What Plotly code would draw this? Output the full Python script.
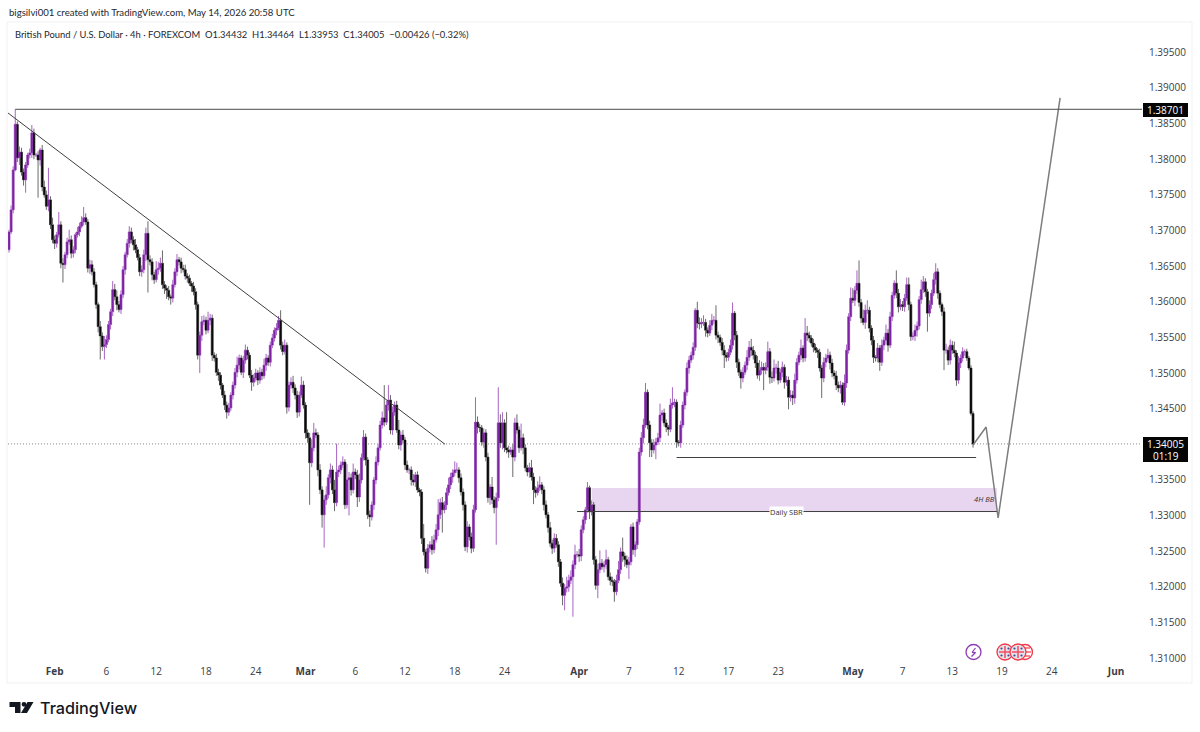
import plotly.graph_objects as go

# GBP/USD 4h closes, oldest first
first_open = 1.3673
closes = [
 1.3698,1.3729,1.3785,1.3849,1.3802,1.3810,1.3782,1.3771,1.3792,1.3806,1.3809,1.3837,1.3806,1.3806,1.3799,1.3813,1.3761,1.3750,1.3734,1.3743,
 1.3708,1.3687,1.3682,1.3694,1.3708,1.3654,1.3652,1.3666,1.3684,1.3687,1.3668,1.3673,1.3694,1.3698,1.3706,1.3712,1.3718,1.3712,1.3647,1.3652,
 1.3642,1.3624,1.3596,1.3565,1.3552,1.3537,1.3540,1.3547,1.3568,1.3586,1.3617,1.3607,1.3596,1.3589,1.3610,1.3645,1.3666,1.3682,1.3698,1.3687,
 1.3680,1.3673,1.3662,1.3642,1.3645,1.3666,1.3696,1.3659,1.3656,1.3638,1.3631,1.3645,1.3647,1.3654,1.3624,1.3619,1.3616,1.3607,1.3605,1.3624,
 1.3642,1.3659,1.3656,1.3647,1.3645,1.3636,1.3633,1.3626,1.3622,1.3614,1.3596,1.3525,1.3553,1.3572,1.3574,1.3560,1.3574,1.3577,1.3525,1.3521,
 1.3501,1.3497,1.3483,1.3469,1.3455,1.3445,1.3451,1.3469,1.3483,1.3501,1.3511,1.3521,1.3501,1.3518,1.3532,1.3525,1.3497,1.3487,1.3493,1.3500,
 1.3490,1.3501,1.3496,1.3511,1.3521,1.3515,1.3539,1.3549,1.3560,1.3563,1.3574,1.3539,1.3530,1.3539,1.3452,1.3483,1.3487,1.3479,1.3469,1.3445,
 1.3469,1.3483,1.3455,1.3416,1.3409,1.3374,1.3395,1.3416,1.3413,1.3364,1.3336,1.3301,1.3322,1.3329,1.3353,1.3364,1.3336,1.3318,1.3361,1.3364,
 1.3371,1.3375,1.3315,1.3350,1.3353,1.3336,1.3361,1.3357,1.3326,1.3350,1.3381,1.3410,1.3378,1.3301,1.3298,1.3315,1.3350,1.3375,1.3395,1.3427,
 1.3437,1.3431,1.3455,1.3462,1.3420,1.3445,1.3455,1.3420,1.3399,1.3413,1.3406,1.3371,1.3364,1.3364,1.3350,1.3347,1.3357,1.3336,1.3333,1.3268,
 1.3249,1.3226,1.3254,1.3259,1.3252,1.3266,1.3280,1.3301,1.3318,1.3308,1.3315,1.3332,1.3343,1.3354,1.3360,1.3364,1.3364,1.3353,1.3333,1.3315,
 1.3256,1.3284,1.3270,1.3254,1.3308,1.3431,1.3424,1.3423,1.3403,1.3416,1.3382,1.3325,1.3340,1.3322,1.3311,1.3325,1.3430,1.3402,1.3430,1.3395,
 1.3392,1.3389,1.3392,1.3382,1.3430,1.3420,1.3395,1.3409,1.3395,1.3367,1.3361,1.3367,1.3354,1.3336,1.3332,1.3339,1.3343,1.3336,1.3315,1.3301,
 1.3283,1.3261,1.3254,1.3268,1.3259,1.3235,1.3205,1.3188,1.3198,1.3200,1.3209,1.3214,1.3231,1.3245,1.3245,1.3243,1.3280,1.3294,1.3308,1.3339,
 1.3305,1.3315,1.3238,1.3202,1.3224,1.3233,1.3228,1.3231,1.3238,1.3214,1.3209,1.3207,1.3193,1.3209,1.3224,1.3249,1.3243,1.3238,1.3231,1.3235,
 1.3284,1.3252,1.3259,1.3291,1.3389,1.3409,1.3427,1.3473,1.3427,1.3402,1.3392,1.3399,1.3403,1.3409,1.3441,1.3444,1.3430,1.3424,1.3421,1.3455,
 1.3458,1.3459,1.3403,1.3402,1.3427,1.3455,1.3473,1.3507,1.3518,1.3525,1.3536,1.3588,1.3570,1.3569,1.3571,1.3571,1.3560,1.3556,1.3567,1.3574,
 1.3574,1.3553,1.3550,1.3543,1.3532,1.3525,1.3522,1.3529,1.3539,1.3584,1.3553,1.3515,1.3501,1.3493,1.3501,1.3511,1.3522,1.3536,1.3532,1.3525,
 1.3514,1.3497,1.3504,1.3508,1.3504,1.3508,1.3530,1.3494,1.3493,1.3507,1.3507,1.3490,1.3501,1.3508,1.3487,1.3490,1.3466,1.3469,1.3465,1.3490,
 1.3515,1.3525,1.3535,1.3521,1.3556,1.3553,1.3549,1.3542,1.3536,1.3532,1.3529,1.3507,1.3493,1.3515,1.3521,1.3525,1.3514,1.3500,1.3496,1.3483,
 1.3479,1.3483,1.3459,1.3486,1.3532,1.3579,1.3605,1.3602,1.3616,1.3626,1.3599,1.3577,1.3571,1.3588,1.3588,1.3563,1.3546,1.3522,1.3521,1.3535,
 1.3515,1.3539,1.3546,1.3556,1.3539,1.3579,1.3609,1.3626,1.3612,1.3593,1.3596,1.3593,1.3605,1.3624,1.3596,1.3551,1.3552,1.3560,1.3566,1.3603,
 1.3617,1.3628,1.3614,1.3584,1.3596,1.3612,1.3631,1.3642,1.3612,1.3596,1.3586,1.3532,1.3532,1.3518,1.3539,1.3532,1.3528,1.3490,1.3514,1.3521,
 1.3530,1.3530,1.3521,1.3507,1.34432,1.34005,
]

# Wick lengths beyond the candle body, in pips
upper_wicks = [
 3,6,5,21,4,8,6,5,4,3,6,11,6,3,5,3,7,9,6,45,
 5,10,6,4,18,5,7,4,6,14,6,5,3,7,5,8,15,6,4,7,
 6,5,4,3,8,5,12,6,5,4,12,8,9,5,6,5,4,6,8,6,
 5,8,4,5,6,7,8,17,6,5,4,12,9,8,18,5,4,6,3,7,
 5,8,4,6,5,7,4,5,3,6,5,4,5,8,7,5,12,6,5,4,
 6,5,4,3,6,5,7,4,5,6,12,5,4,6,8,5,4,7,5,6,
 4,7,5,9,6,4,5,6,4,7,6,14,5,8,4,5,7,9,5,6,
 5,12,6,4,5,7,12,14,6,4,8,5,6,12,5,9,6,14,40,6,
 5,8,4,22,8,6,12,5,7,9,6,10,5,4,6,5,4,8,5,6,
 9,46,6,21,7,8,5,6,14,5,7,4,6,3,5,8,4,5,3,4,
 20,4,6,5,12,7,8,22,6,8,5,7,10,6,5,12,10,4,6,5,
 5,8,4,6,7,35,8,5,4,6,5,6,4,14,5,7,50,12,15,5,
 50,6,4,8,7,12,5,20,6,5,4,7,11,6,5,9,12,4,5,6,
 4,8,5,7,6,5,4,8,6,14,8,9,6,14,5,8,6,5,4,8,
 3,6,4,5,8,18,6,5,14,4,6,5,4,8,12,6,20,5,6,7,
 4,6,5,4,6,8,9,13,4,6,5,8,6,7,16,4,6,5,3,9,
 22,5,4,3,6,5,4,8,6,5,7,3,12,8,6,10,5,4,7,9,
 6,21,5,4,6,7,4,5,8,15,3,6,5,4,7,5,10,9,12,6,
 5,10,14,8,6,7,14,5,8,12,6,10,5,8,4,6,5,7,6,9,
 6,5,12,4,21,10,5,4,6,5,3,5,4,7,6,9,5,6,4,7,
 5,6,4,12,8,5,15,14,6,18,32,5,12,8,14,5,4,6,3,7,
 4,8,5,12,6,7,5,4,18,6,8,5,6,10,10,4,5,8,6,5,
 14,8,5,4,6,5,9,12,5,4,3,6,9,5,8,6,12,4,10,5,
 6,3,4,3,4,3.2,
]
lower_wicks = [
 4,3,5,2,6,10,5,8,18,4,5,7,6,3,53,8,6,4,5,7,
 6,5,8,6,4,7,25,6,5,4,7,6,5,4,6,3,5,4,6,8,
 5,4,6,8,33,6,18,5,4,7,6,5,8,4,6,5,7,4,6,5,
 8,5,4,6,7,5,9,46,5,8,6,4,7,5,6,8,12,5,9,6,
 4,6,5,7,4,5,6,4,8,5,7,6,25,8,5,6,4,7,8,5,
 5,8,6,4,7,9,5,4,6,5,7,6,4,8,5,6,4,12,6,5,
 7,5,6,4,8,5,6,4,5,7,3,6,5,4,9,6,5,7,6,8,
 6,4,5,8,7,59,6,5,4,9,6,18,46,7,5,8,6,12,5,7,
 6,4,6,5,50,8,5,6,14,7,5,4,8,6,14,5,7,6,5,4,
 5,6,4,8,6,7,5,4,6,8,5,7,4,6,8,5,7,4,6,8,
 5,6,8,6,7,5,4,9,6,32,5,7,4,6,8,5,4,7,5,8,
 6,8,5,7,5,4,9,6,5,8,6,7,10,6,8,52,5,7,9,6,
 5,8,4,28,6,5,7,4,9,5,6,8,5,20,7,4,5,6,8,5,
 7,5,8,6,4,7,5,14,21,6,7,5,56,6,4,8,7,5,6,4,
 10,5,7,6,18,5,4,8,6,5,7,6,14,5,4,6,8,10,5,20,
 5,7,10,6,4,5,8,4,6,20,10,5,20,4,6,8,5,7,9,4,
 5,6,8,5,7,4,6,5,8,4,6,5,7,8,6,5,9,6,4,7,
 5,6,8,5,7,18,6,5,4,6,7,8,5,15,6,4,7,5,8,6,
 7,5,8,6,28,6,5,9,7,5,8,6,4,7,9,5,17,6,10,8,
 5,4,7,6,5,8,6,5,7,4,8,5,28,6,7,5,9,6,5,7,
 6,8,4,5,7,5,6,4,8,5,6,7,4,9,5,6,7,8,5,6,
 12,5,7,6,9,4,6,5,7,8,5,6,7,4,8,6,5,7,9,5,
 6,5,7,26,5,6,4,7,8,5,6,28,5,7,6,5,6,8,5,7,
 5,6,4,3,3,5.2,
]
assert len(closes) == len(upper_wicks) == len(lower_wicks)

tick_bars = [22, 47, 71, 95, 119, 143, 167, 191, 215, 239, 275, 299, 323, 347, 371, 407, 431, 455, 479, 503, 534]
tick_labels = ["<b>Feb</b>", "6", "12", "18", "24", "<b>Mar</b>", "6", "12", "18", "24", "<b>Apr</b>", "7", "12",
               "17", "23", "<b>May</b>", "7", "13", "19", "24", "<b>Jun</b>"]
price_ticks = [1.31 + 0.005 * k for k in range(18)]

target_high = 1.38701
last_close = 1.34005
support_level = 1.33814
sbr_level = 1.33056
zone_top = 1.33386
trend_bars = [-0.5, 210.3]
trend_prices = [1.38649, 1.3400]
forecast_bars = [465, 471.3, 477.1, 507]
forecast_prices = [1.33990, 1.34242, 1.32965, 1.38860]

UP = "#7f23a6"
DOWN = "#0b0b0b"
UP_WICK = "#a765c4"
DOWN_WICK = "#6a6a6a"
TEXT = "#3a3d45"
FONT = "Open Sans, sans-serif"
HEAD_FONT = "Lato, sans-serif"

W, H = 1200, 732
L, R, T, B = 8, 1142, 22, 664


def fx(px):
    return (px - L) / (R - L)


def fy(py):
    return (B - py) / (B - T)


opens = [first_open] + closes[:-1]
groups = {True: dict(x=[], base=[], y=[]), False: dict(x=[], base=[], y=[])}
wicks = {True: dict(x=[], y=[]), False: dict(x=[], y=[])}
for i, (o, c, uw, lw) in enumerate(zip(opens, closes, upper_wicks, lower_wicks)):
    up = c >= o
    top, bot = max(o, c), min(o, c)
    groups[up]["x"].append(i)
    groups[up]["base"].append(bot)
    groups[up]["y"].append(top - bot)
    wicks[up]["x"] += [i, i, None, i, i, None]
    wicks[up]["y"] += [top, top + uw / 1e4, None, bot, bot - lw / 1e4, None]

fig = go.Figure()
for up, colour, wick_colour in ((False, DOWN, DOWN_WICK), (True, UP, UP_WICK)):
    fig.add_bar(x=groups[up]["x"], base=groups[up]["base"], y=groups[up]["y"], width=0.95,
                marker=dict(color=colour, line=dict(color=colour, width=0.6)), hoverinfo="skip")
    fig.add_scatter(x=wicks[up]["x"], y=wicks[up]["y"], mode="lines",
                    line=dict(color=wick_colour, width=1), hoverinfo="skip")

# Trend line and projected path
fig.add_scatter(x=trend_bars, y=trend_prices, mode="lines", line=dict(color="#3f3f3f", width=1), hoverinfo="skip")
fig.add_scatter(x=forecast_bars, y=forecast_prices, mode="lines", line=dict(color="#7d7d7d", width=1.5), hoverinfo="skip")

shapes = [
    dict(type="rect", xref="paper", yref="paper", x0=fx(7), x1=fx(1192), y0=fy(683), y1=fy(22),
         line=dict(color="#f0f1f4", width=1), layer="below"),
    dict(type="rect", x0=281, x1=476.5, y0=sbr_level, y1=zone_top, fillcolor="#e8d6f0", line=dict(width=0), layer="below"),
    dict(type="line", x0=-0.5, x1=546.5, y0=last_close, y1=last_close, line=dict(color="#8a8a8a", width=1, dash="1px,2px"), layer="below"),
    dict(type="line", x0=3, x1=546.5, y0=target_high, y1=target_high, line=dict(color="#4a4a4a", width=1)),
    dict(type="line", x0=322, x1=466.5, y0=support_level, y1=support_level, line=dict(color="#3f3f3f", width=1)),
    dict(type="line", x0=274, x1=476.5, y0=sbr_level, y1=sbr_level, line=dict(color="#3f3f3f", width=1)),
    # price tags on the axis
    dict(type="rect", xref="paper", yref="paper", x0=fx(1143), x1=fx(1188), y0=fy(117), y1=fy(103), fillcolor="#050505", line=dict(width=0)),
    dict(type="rect", xref="paper", yref="paper", x0=fx(1143), x1=fx(1188), y0=fy(462), y1=fy(437), fillcolor="#050505", line=dict(width=0)),
]


def circle(cx, cy, r, fill, stroke, width=1.3):
    return dict(type="circle", xref="paper", yref="paper", x0=fx(cx - r), x1=fx(cx + r), y0=fy(cy + r), y1=fy(cy - r),
                fillcolor=fill, line=dict(color=stroke, width=width))


def seg(x0, y0, x1, y1, colour, width=1.2):
    return dict(type="line", xref="paper", yref="paper", x0=fx(x0), x1=fx(x1), y0=fy(y0), y1=fy(y1),
                line=dict(color=colour, width=width))


# Event markers along the lower edge of the pane
shapes.append(circle(973.5, 652, 7.5, "#ffffff", "#8e3bb5"))
shapes.append(seg(975.5, 648, 972, 652.5, "#8e3bb5"))
shapes.append(seg(972, 652.5, 975.5, 652.5, "#8e3bb5"))
shapes.append(seg(975.5, 652.5, 971.5, 656.5, "#8e3bb5"))
shapes.append(circle(1025, 652, 7.5, "#ffffff", "#f23645"))
shapes.append(seg(1025, 648, 1030, 648, "#f23645"))
shapes.append(seg(1025, 652, 1031, 652, "#f23645"))
shapes.append(seg(1025, 656, 1030, 656, "#f23645"))
for cx in (1005, 1018):
    shapes.append(circle(cx, 652, 8, "#e4e2ea", "#f23645"))
    shapes.append(seg(cx - 6, 652, cx + 6, 652, "#f0566a", 1.6))
    shapes.append(seg(cx, 646, cx, 658, "#f0566a", 1.6))
    for dx, dy in ((-3.5, -3.5), (3.5, -3.5), (-3.5, 3.5), (3.5, 3.5)):
        shapes.append(circle(cx + dx, 652 + dy, 1.1, "#3b4a8c", "#3b4a8c", 0))

# Wordmark glyph at the foot of the page
shapes += [
    dict(type="path", xref="paper", yref="paper", fillcolor="#131722", line=dict(width=0),
         path=f"M {fx(9.5)} {fy(702)} L {fx(20.5)} {fy(702)} L {fx(20.5)} {fy(713)} L {fx(15)} {fy(713)} L {fx(15)} {fy(707)} L {fx(9.5)} {fy(707)} Z"),
    circle(24, 704.3, 2.4, "#131722", "#131722", 0),
    dict(type="path", xref="paper", yref="paper", fillcolor="#131722", line=dict(width=0),
         path=f"M {fx(27.5)} {fy(702)} L {fx(33.5)} {fy(702)} L {fx(27)} {fy(713)} L {fx(21)} {fy(713)} Z"),
]


def note(px, py, text, size=10, colour=TEXT, anchor="left", family=FONT, weight=None, **kw):
    font = dict(family=family, size=size, color=colour)
    if weight:
        font["weight"] = weight
    return dict(xref="paper", yref="paper", x=fx(px), y=fy(py), text=text, showarrow=False, xanchor=anchor, yanchor="middle",
                font=font, borderpad=0, **kw)


annotations = [
    note(8, 12, "bigsilvi001 created with TradingView.com, May 14, 2026 20:58 UTC", 9.6, "#24272e", family=HEAD_FONT),
    note(14, 34, "British Pound / U.S. Dollar · 4h · FOREXCOM  O1.34432  H1.34464  L1.33953  C1.34005  −0.00426 (−0.32%)", 9.4, "#24272e", family=HEAD_FONT),
    note(1165.5, 110, "1.38701", 10, "#ffffff", "center"),
    note(1165.5, 444, "1.34005", 10, "#ffffff", "center"),
    note(1165.5, 455.5, "01:19", 10, "#ffffff", "center"),
    note(786.5, 511.5, "Daily SBR", 7.5, "#333333", "center", bgcolor="#ffffff"),
    note(984, 499, "<i>4H BB</i>", 7.5, "#333333", "center"),
    note(38.5, 708, "TradingView", 16.2, "#131722", family="Inter, sans-serif", weight=500),
]

fig.update_layout(
    width=W, height=H, margin=dict(l=L, r=W - R, t=T, b=H - B), autosize=False,
    plot_bgcolor="#ffffff", paper_bgcolor="#ffffff", showlegend=False, barmode="overlay",
    shapes=shapes, annotations=annotations, font=dict(family=FONT, size=10, color=TEXT),
    xaxis=dict(range=[-0.5, 546.5], tickmode="array", tickvals=tick_bars, ticktext=tick_labels, showgrid=False,
               zeroline=False, showline=False, ticks="", tickfont=dict(size=10, color=TEXT)),
    yaxis=dict(range=[1.30916, 1.39926], side="right", tickmode="array", tickvals=price_ticks,
               ticktext=[f"{p:.5f}" for p in price_ticks], showgrid=False, zeroline=False, showline=False, ticks="",
               tickfont=dict(size=10, color=TEXT), ticklabelstandoff=6),
)

fig.write_html("out.html", config=dict(displayModeBar=False))
